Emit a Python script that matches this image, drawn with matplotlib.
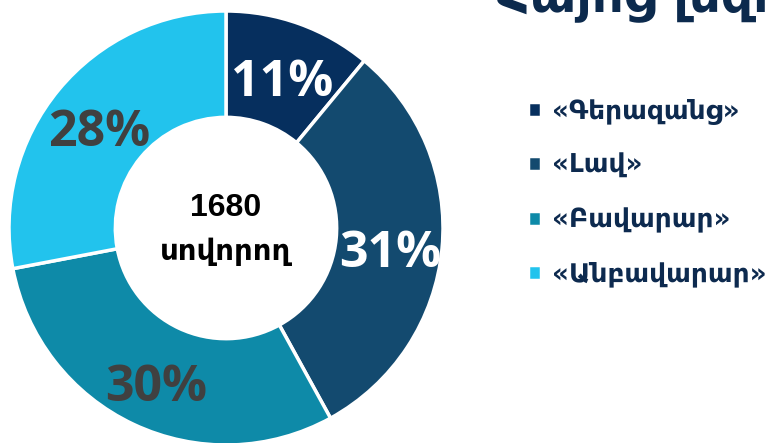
import matplotlib
matplotlib.use("Agg")
import matplotlib.pyplot as plt

categories = ["«Գերազանց»", "«Լավ»", "«Բավարար»", "«Անբավարար»"]
values = [11, 31, 30, 28]
colors = ["#062f5e", "#134a6f", "#0e8aa8", "#22c3ed"]
label_colors = ["white", "white", "#404040", "#404040"]
center_number = "1680"
center_word = "սովորող"
title = "Հայոց լեզու"

W, H = 771, 443
fig = plt.figure(figsize=(W / 100, H / 100), dpi=100)

cx, cy, R = 226, 228, 217
ax = fig.add_axes([(cx - R) / W, (H - cy - R) / H, 2 * R / W, 2 * R / H])

wedges, texts, autotexts = ax.pie(
    values, colors=colors, startangle=90, counterclock=False, radius=1,
    autopct=lambda p: f"{p:.0f}%", pctdistance=0.76,
    wedgeprops=dict(width=0.49, edgecolor="white", linewidth=2.5),
)
ax.set_xlim(-1, 1)
ax.set_ylim(-1, 1)
ax.set_aspect("equal")
ax.axis("off")

for t, c in zip(autotexts, label_colors):
    t.set_color(c)
    t.set_fontfamily(["Open Sans", "DejaVu Sans"])
    t.set_fontweight("bold")
    t.set_fontsize(36)
    t.set_verticalalignment("center_baseline")
    x, y = t.get_position()
    t.set_position((x, y - 0.02))

ax.text(0, 0.092, center_number, ha="center", va="center", fontsize=23,
        fontweight="bold", family=["Liberation Sans", "DejaVu Sans"], color="black")
ax.text(0, -0.11, center_word, ha="center", va="center", fontsize=21,
        fontweight="bold", family=["DejaVu Sans"], color="black")

fig.text(497 / W, 1 - 12 / H, title, ha="left", va="baseline", fontsize=36,
         fontweight="bold", family=["DejaVu Sans"], color="#0c2a4d")

leg = fig.legend(wedges, categories, loc="upper left",
                 bbox_to_anchor=(528 / W, 1 - 99 / H), frameon=False,
                 borderpad=0, borderaxespad=0,
                 prop=dict(family="DejaVu Sans", weight="bold", size=19),
                 handlelength=0.5, handleheight=0.5, handletextpad=0.4,
                 labelspacing=1.07)
for t in leg.get_texts():
    t.set_color("#0d2a4f")

fig.savefig("out.png", dpi=100)
